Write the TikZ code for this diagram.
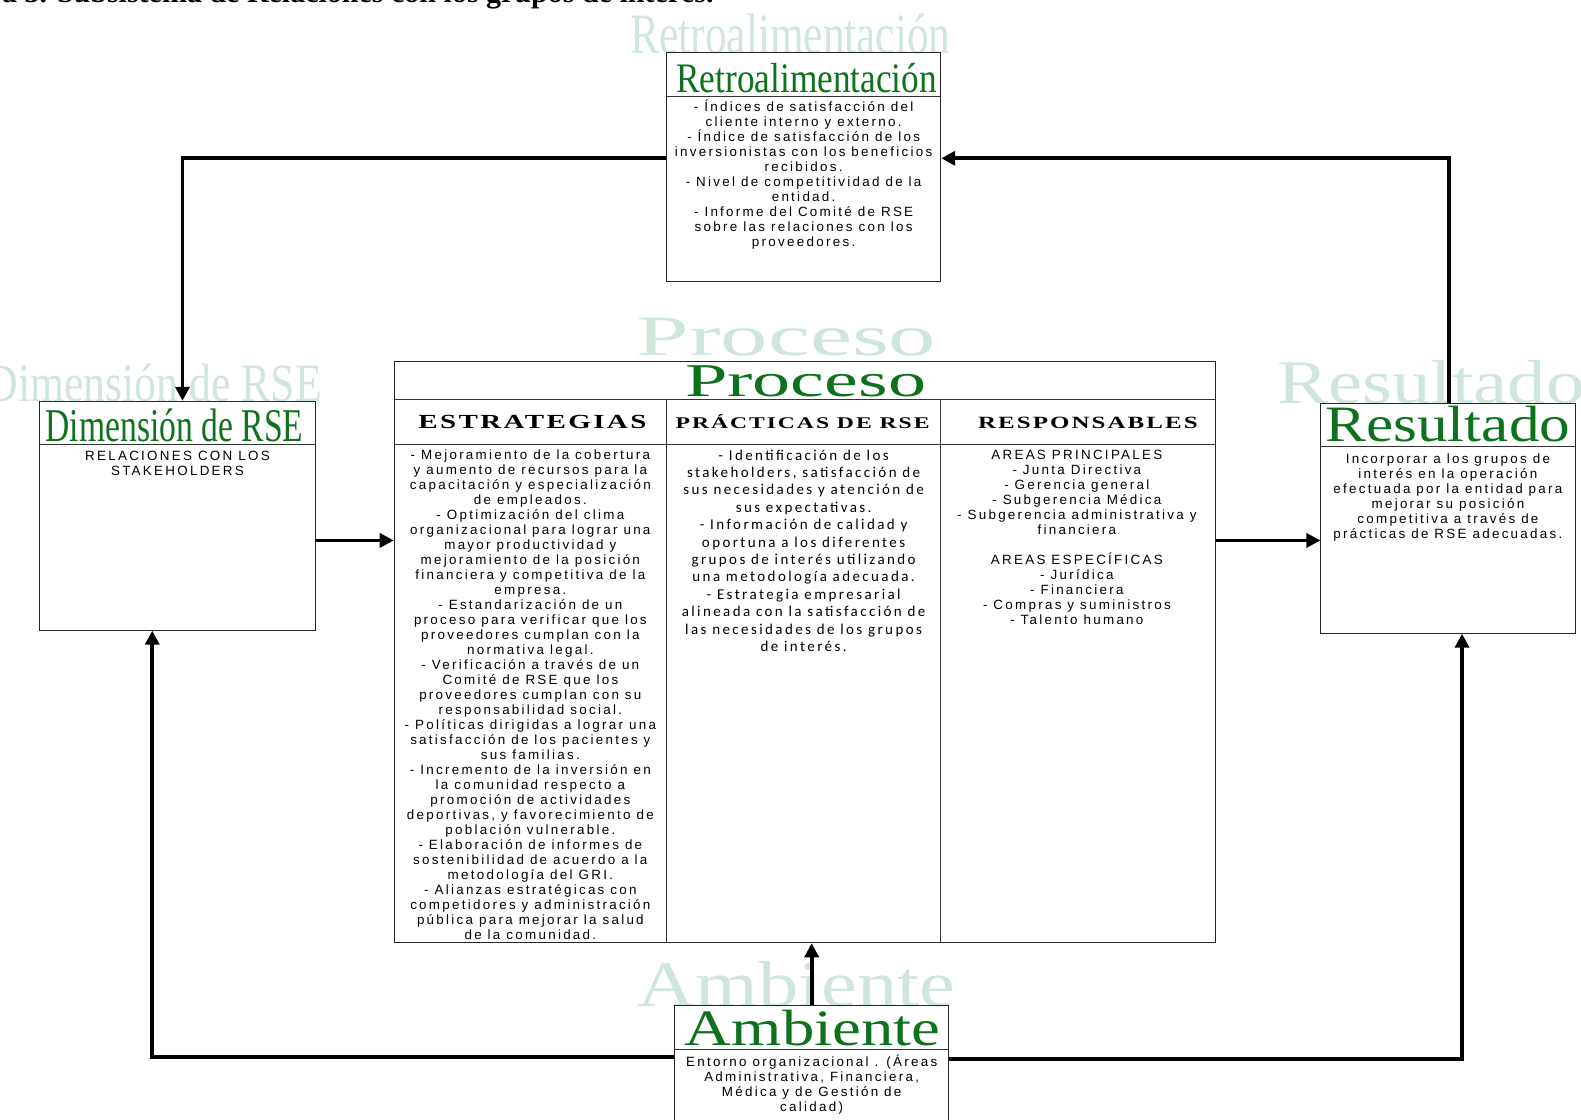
\documentclass[tikz,border=0pt]{standalone}
\usepackage{fontspec}
\setmainfont{Liberation Sans}
\newfontfamily\bodyfont[LetterSpace=17]{Liberation Sans}
\newfontfamily\pracfont[LetterSpace=16]{Carlito}
\newfontfamily\headfont[FakeStretch=1.45,LetterSpace=12]{Liberation Serif}
\newfontfamily\titlefont{Liberation Serif}
\usetikzlibrary{arrows.meta, positioning, fit, calc}

\definecolor{titlegreen}{RGB}{12,114,28}
\definecolor{ghostgreen}{RGB}{208,230,218}
\newcommand{\wide}[2]{\scalebox{#1}[1]{#2}}

\begin{document}
\begin{tikzpicture}[x=1.0083pt, y=-1.0083pt,
    box/.style={draw=black!85, line width=1pt, inner sep=0pt},
    rule/.style={draw=black!80, line width=1pt},
    ghost/.style={text=ghostgreen, anchor=base, inner sep=0pt},
    green/.style={text=titlegreen, anchor=base, inner sep=0pt},
    body/.style={font=\bodyfont\fontsize{13.4}{15}\selectfont, align=center, anchor=north, inner sep=0pt},
    colhead/.style={font=\headfont\bfseries\fontsize{20}{22}\selectfont, anchor=base, inner sep=0pt},
    flow/.style={line width=3.8pt, -{Triangle[length=14pt, width=14pt]}}]

    \useasboundingbox (0,0) rectangle (1568,1110);
    \clip (0,0) rectangle (1568,1110);

    % Figure caption (cut at the top)
    \node[anchor=base east, inner sep=0pt, font=\titlefont\bfseries\fontsize{30}{32}\selectfont] (figtitle) at (708,2.5)
        {Figura 3. Subsistema de Relaciones con los grupos de interés.};

    % Pale titles behind the boxes
    \node[ghost, font=\titlefont\fontsize{57}{60}\selectfont] (retroghost) at (784,53) {\wide{0.76}{Retroalimentación}};
    \node[ghost, font=\titlefont\fontsize{54}{60}\selectfont] (dimghost) at (153,398) {\wide{0.81}{Dimensión de RSE}};
    \node[ghost, font=\titlefont\fontsize{57}{60}\selectfont] (procghost) at (780,353) {\wide{1.66}{Proceso}};
    \node[ghost, font=\titlefont\fontsize{62}{66}\selectfont] (resghost) at (1419,400) {\wide{1.24}{Resultado}};
    \node[ghost, font=\titlefont\fontsize{65}{70}\selectfont] (ambghost) at (790,998) {\wide{1.24}{Ambiente}};

    % Boxes
    \node[box, fit={(661,52) (933,279)}] (retro) {};
    \node[box, fit={(39,398) (313,625)}] (dim) {};
    \node[box, fit={(391,359) (1205,935)}] (proc) {};
    \node[box, fit={(1310,400) (1563,628)}] (res) {};
    \node[box, fit={(669,997) (941,1116)}] (amb) {};

    % Header rules
    \draw[rule] (retro.west |- 0,96) -- (retro.east |- 0,96);
    \draw[rule] (dim.west |- 0,441) -- (dim.east |- 0,441);
    \draw[rule] (res.west |- 0,443) -- (res.east |- 0,443);
    \draw[rule] (amb.west |- 0,1041) -- (amb.east |- 0,1041);
    \draw[rule] (proc.west |- 0,396) -- (proc.east |- 0,396);
    \draw[rule] (proc.west |- 0,441) -- (proc.east |- 0,441);
    \draw[rule] (661,396) -- (proc.south -| 661,0);
    \draw[rule] (933,396) -- (proc.south -| 933,0);

    % Green titles
    \node[green, font=\titlefont\fontsize{42}{46}\selectfont] (retrotitle) at (800,92) {\wide{0.84}{Retroalimentación}};
    \node[green, font=\titlefont\fontsize{47}{50}\selectfont] (dimtitle) at (173,438) {\wide{0.715}{Dimensión de RSE}};
    \node[green, font=\titlefont\fontsize{47}{50}\selectfont] (proctitle) at (799,393) {\wide{1.62}{Proceso}};
    \node[green, font=\titlefont\fontsize{51}{55}\selectfont] (restitle) at (1436,438) {\wide{1.2}{Resultado}};
    \node[green, font=\titlefont\fontsize{51}{55}\selectfont] (ambtitle) at (806,1037) {\wide{1.27}{Ambiente}};

    % Column headers
    \node[colhead] (estrhead) at (528,425) {ESTRATEGIAS};
    \node[colhead, font=\headfont\bfseries\fontsize{16.3}{18}\selectfont] (prachead) at (796,425) {PRÁCTICAS DE RSE};
    \node[colhead, font=\headfont\bfseries\fontsize{17.2}{20}\selectfont] (resphead) at (1079,425) {RESPONSABLES};

    % Box texts
    \node[body] (retrotext) at (797,99) {\strut- Índices de satisfacción del\\cliente interno y externo.\\- Índice de satisfacción de los\\inversionistas con los beneficios\\recibidos.\\- Nivel de competitividad de la\\entidad.\\- Informe del Comité de RSE\\sobre las relaciones con los\\proveedores.};
    \node[body] (dimtext) at (176,446) {\strut RELACIONES CON LOS\\STAKEHOLDERS};
    \node[body] (restext) at (1436,449) {\strut Incorporar a los grupos de\\interés en la operación\\efectuada por la entidad para\\mejorar su posición\\competitiva a través de\\prácticas de RSE adecuadas.};
    \node[body] (ambtext) at (805,1046) {\strut Entorno organizacional . (Áreas\\Administrativa, Financiera,\\Médica y de Gestión de\\calidad)};

    % Column texts
    \node[body] (estrtext) at (526,445) {\strut- Mejoramiento de la cobertura\\y aumento de recursos para la\\capacitación y especialización\\de empleados.\\- Optimización del clima\\organizacional para lograr una\\mayor productividad y\\mejoramiento de la posición\\financiera y competitiva de la\\empresa.\\- Estandarización de un\\proceso para verificar que los\\proveedores cumplan con la\\normativa legal.\\- Verificación a través de un\\Comité de RSE que los\\proveedores cumplan con su\\responsabilidad social.\\- Políticas dirigidas a lograr una\\satisfacción de los pacientes y\\sus familias.\\- Incremento de la inversión en\\la comunidad respecto a\\promoción de actividades\\deportivas, y favorecimiento de\\población vulnerable.\\- Elaboración de informes de\\sostenibilidad de acuerdo a la\\metodología del GRI.\\- Alianzas estratégicas con\\competidores y administración\\pública para mejorar la salud\\de la comunidad.};
    \node[body, font=\pracfont\fontsize{15}{17.4}\selectfont] (practext) at (797,444) {\strut- Identificación de los\\stakeholders, satisfacción de\\sus necesidades y atención de\\sus expectativas.\\- Información de calidad y\\oportuna a los diferentes\\grupos de interés utilizando\\una metodología adecuada.\\- Estrategia empresarial\\alineada con la satisfacción de\\las necesidades de los grupos\\de interés.};
    \node[body] (resptext) at (1068,445) {\strut AREAS PRINCIPALES\\- Junta Directiva\\- Gerencia general\\- Subgerencia Médica\\- Subgerencia administrativa y\\financiera\\[15pt]AREAS ESPECÍFICAS\\- Jurídica\\- Financiera\\- Compras y suministros\\- Talento humano};

    % Connectors
    \draw[flow] (retro.west |- 0,157) -| (dim.north -| 181,0);
    \draw[flow] (res.north -| 1437,0) |- (retro.east |- 0,157);
    \draw[flow] (dim.east |- 0,536) -- (proc.west |- 0,536);
    \draw[flow] (proc.east |- 0,536) -- (res.west |- 0,536);
    \draw[flow] (amb.north -| 805,0) -- (proc.south -| 805,0);
    \draw[flow] (amb.west |- 0,1048) -| (dim.south -| 151,0);
    \draw[flow] (amb.east |- 0,1050) -| (res.south -| 1450,0);
\end{tikzpicture}
\end{document}
